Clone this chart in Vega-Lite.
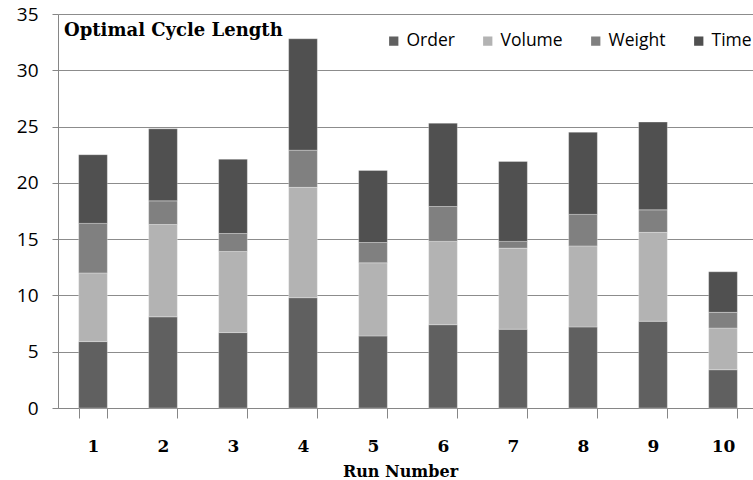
{
  "$schema": "https://vega.github.io/schema/vega-lite/v6.json",
  "width": 700,
  "height": 394,
  "autosize": {"type": "none"},
  "padding": {"left": 58, "top": 14, "right": 0, "bottom": 72},
  "background": "white",
  "title": {
    "text": "Optimal Cycle Length",
    "anchor": "start",
    "frame": "group",
    "font": "DejaVu Serif",
    "fontSize": 18,
    "fontWeight": "bold",
    "color": "#000000",
    "offset": 0,
    "baseline": "top",
    "dx": 6,
    "dy": 35
  },
  "config": {
    "view": {"stroke": null},
    "axis": {"domainColor": "#868686", "tickColor": "#868686", "gridColor": "#8c8c8c", "labelColor": "#000000", "titleColor": "#000000"}
  },
  "data": {
    "values": [
      {"run": "1", "component": "Order", "seq": 1, "value": 5.9},
      {"run": "1", "component": "Volume", "seq": 2, "value": 6.1},
      {"run": "1", "component": "Weight", "seq": 3, "value": 4.4},
      {"run": "1", "component": "Time", "seq": 4, "value": 6.1},
      {"run": "2", "component": "Order", "seq": 1, "value": 8.1},
      {"run": "2", "component": "Volume", "seq": 2, "value": 8.2},
      {"run": "2", "component": "Weight", "seq": 3, "value": 2.1},
      {"run": "2", "component": "Time", "seq": 4, "value": 6.4},
      {"run": "3", "component": "Order", "seq": 1, "value": 6.7},
      {"run": "3", "component": "Volume", "seq": 2, "value": 7.2},
      {"run": "3", "component": "Weight", "seq": 3, "value": 1.6},
      {"run": "3", "component": "Time", "seq": 4, "value": 6.6},
      {"run": "4", "component": "Order", "seq": 1, "value": 9.8},
      {"run": "4", "component": "Volume", "seq": 2, "value": 9.8},
      {"run": "4", "component": "Weight", "seq": 3, "value": 3.3},
      {"run": "4", "component": "Time", "seq": 4, "value": 9.9},
      {"run": "5", "component": "Order", "seq": 1, "value": 6.4},
      {"run": "5", "component": "Volume", "seq": 2, "value": 6.5},
      {"run": "5", "component": "Weight", "seq": 3, "value": 1.8},
      {"run": "5", "component": "Time", "seq": 4, "value": 6.4},
      {"run": "6", "component": "Order", "seq": 1, "value": 7.4},
      {"run": "6", "component": "Volume", "seq": 2, "value": 7.4},
      {"run": "6", "component": "Weight", "seq": 3, "value": 3.1},
      {"run": "6", "component": "Time", "seq": 4, "value": 7.4},
      {"run": "7", "component": "Order", "seq": 1, "value": 7.0},
      {"run": "7", "component": "Volume", "seq": 2, "value": 7.2},
      {"run": "7", "component": "Weight", "seq": 3, "value": 0.6},
      {"run": "7", "component": "Time", "seq": 4, "value": 7.1},
      {"run": "8", "component": "Order", "seq": 1, "value": 7.2},
      {"run": "8", "component": "Volume", "seq": 2, "value": 7.2},
      {"run": "8", "component": "Weight", "seq": 3, "value": 2.8},
      {"run": "8", "component": "Time", "seq": 4, "value": 7.3},
      {"run": "9", "component": "Order", "seq": 1, "value": 7.7},
      {"run": "9", "component": "Volume", "seq": 2, "value": 7.9},
      {"run": "9", "component": "Weight", "seq": 3, "value": 2.0},
      {"run": "9", "component": "Time", "seq": 4, "value": 7.8},
      {"run": "10", "component": "Order", "seq": 1, "value": 3.4},
      {"run": "10", "component": "Volume", "seq": 2, "value": 3.7},
      {"run": "10", "component": "Weight", "seq": 3, "value": 1.4},
      {"run": "10", "component": "Time", "seq": 4, "value": 3.6}
    ]
  },
  "mark": {"type": "bar", "stroke": "#ffffff", "strokeWidth": 0.5, "strokeOpacity": 0.6},
  "encoding": {
    "x": {
      "field": "run",
      "type": "ordinal",
      "sort": ["1", "2", "3", "4", "5", "6", "7", "8", "9", "10"],
      "scale": {"paddingInner": 0.59, "paddingOuter": 0.295},
      "axis": {
        "title": "Run Number",
        "titleFont": "DejaVu Serif",
        "titleFontSize": 16,
        "titleFontWeight": "bold",
        "titlePadding": 9,
        "titleX": 342,
        "labelFont": "DejaVu Serif",
        "labelFontSize": 17,
        "labelFontWeight": "bold",
        "labelAngle": 0,
        "labelPadding": 20,
        "tickBand": "extent",
        "tickSize": 10,
        "grid": false
      }
    },
    "y": {
      "field": "value",
      "type": "quantitative",
      "aggregate": "sum",
      "stack": "zero",
      "scale": {"domain": [0, 35], "nice": false},
      "axis": {
        "title": null,
        "values": [0, 5, 10, 15, 20, 25, 30, 35],
        "labelFont": "Open Sans",
        "labelFontSize": 19,
        "labelFontWeight": "normal",
        "labelPadding": 14,
        "tickSize": 6,
        "grid": true
      }
    },
    "color": {
      "field": "component",
      "type": "nominal",
      "sort": ["Order", "Volume", "Weight", "Time"],
      "scale": {"domain": ["Order", "Volume", "Weight", "Time"], "range": ["#606060", "#b3b3b3", "#808080", "#505050"]},
      "legend": {
        "title": null,
        "orient": "none",
        "legendX": 327,
        "legendY": 18,
        "direction": "horizontal",
        "columns": 4,
        "padding": 0,
        "symbolType": "square",
        "symbolSize": 86,
        "symbolStrokeWidth": 0,
        "labelFont": "Open Sans",
        "labelFontSize": 17.5,
        "labelColor": "#000000",
        "labelOffset": 4,
        "columnPadding": 24
      }
    },
    "order": {"field": "seq", "type": "quantitative"}
  }
}
